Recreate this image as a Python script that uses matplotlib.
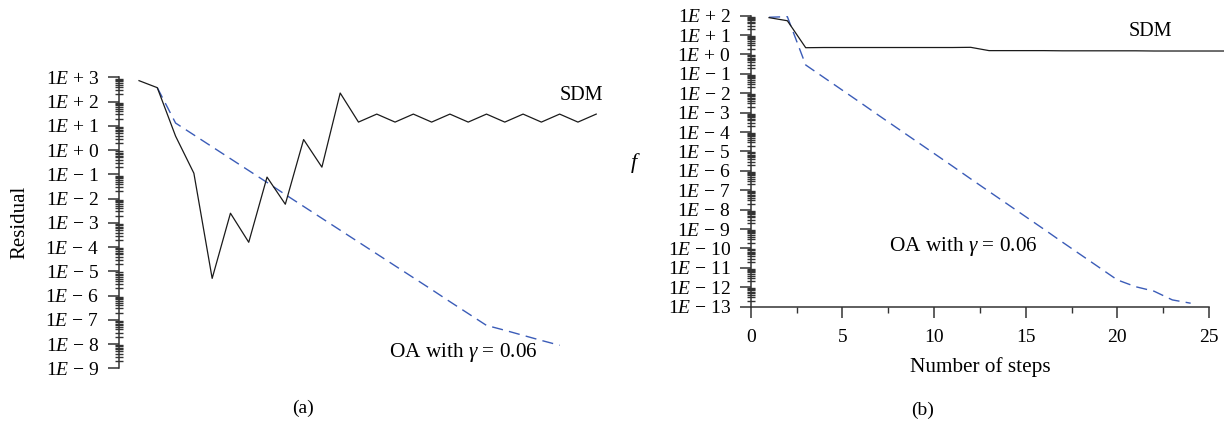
import numpy as np
import matplotlib
matplotlib.use("Agg")
import matplotlib.pyplot as plt
from matplotlib.ticker import LogLocator, NullFormatter, FuncFormatter, MultipleLocator

plt.rcParams["font.family"] = ["Liberation Serif", "DejaVu Serif"]
plt.rcParams["mathtext.fontset"] = "custom"
plt.rcParams["mathtext.rm"] = "Liberation Serif"
plt.rcParams["mathtext.it"] = "Liberation Serif:italic"

# panel (a): residual per step (log10 values)
steps_a = list(range(1, 27))
sdm_a = [2.87, 2.58, 0.58, -0.95, -5.29, -2.6, -3.8, -1.11, -2.23, 0.44,
         -0.70, 2.36, 1.16, 1.49, 1.16, 1.49, 1.16, 1.49, 1.16, 1.49,
         1.16, 1.49, 1.16, 1.49, 1.16, 1.49]
oa_steps_a = list(range(2, 25))
oa_a = [2.58, 1.12, 0.63, 0.14, -0.35, -0.84, -1.33, -1.83, -2.32, -2.81,
        -3.30, -3.79, -4.28, -4.77, -5.26, -5.75, -6.25, -6.74, -7.23, -7.43,
        -7.64, -7.85, -8.05]

# panel (b): f per step
steps_b = list(range(1, 27))
sdm_b = [1.90, 1.74, 0.35, 0.36, 0.36, 0.36, 0.36, 0.36, 0.36, 0.36,
         0.36, 0.37, 0.20, 0.20, 0.20, 0.20, 0.19, 0.19, 0.19, 0.19,
         0.19, 0.18, 0.18, 0.18, 0.18, 0.18]
oa_steps_b = list(range(1, 25))
oa_b = [1.92, 1.95, -0.54, -1.19, -1.84, -2.49, -3.15, -3.80, -4.45, -5.10,
        -5.75, -6.41, -7.06, -7.71, -8.36, -9.01, -9.67, -10.32, -10.97, -11.62,
        -11.97, -12.20, -12.65, -12.82]

W, H = 1224, 421
fig = plt.figure(figsize=(W / 100, H / 100), dpi=100)

def box(x0, y0, x1, y1):
    return [x0 / W, 1 - y1 / H, (x1 - x0) / W, (y1 - y0) / H]

def fpos(x, y):
    return x / W, 1 - y / H

black = "#1a1a1a"
blue = "#3b5cb8"
dash = (0, (8, 4.5))

def efmt(v, pos):
    e = int(round(np.log10(v)))
    sign = "+" if e >= 0 else "-"
    return r"$1E\,%s\,%d$" % (sign, abs(e))

def style_log(ax, lo, hi):
    ax.set_yscale("log")
    ax.set_ylim(10.0 ** lo, 10.0 ** hi)
    ax.yaxis.set_major_locator(LogLocator(base=10, numticks=100))
    ax.yaxis.set_minor_locator(LogLocator(base=10, subs=np.arange(2, 10), numticks=100))
    ax.yaxis.set_major_formatter(FuncFormatter(efmt))
    ax.yaxis.set_minor_formatter(NullFormatter())
    ax.tick_params(axis="y", which="major", direction="out", length=8, width=1.1,
                   color="#333333", labelsize=14, pad=6)
    ax.tick_params(axis="y", which="minor", direction="inout", length=6, width=1.0,
                   color="#333333")
    for s in ["top", "right"]:
        ax.spines[s].set_visible(False)
    ax.spines["left"].set_linewidth(1.1)
    ax.spines["left"].set_color("#333333")

# (a)
ax1 = fig.add_axes(box(119, 77.5, 620, 368.3))
ax1.plot(oa_steps_a, 10.0 ** np.array(oa_a), color=blue, lw=1.0, ls=dash)
ax1.plot(steps_a, 10.0 ** np.array(sdm_a), color=black, lw=0.9)
style_log(ax1, -9, 3)
ax1.set_xlim(-0.094, 27.3)
ax1.spines["bottom"].set_visible(False)
ax1.set_xticks([])
fig.text(*fpos(20, 222), "Residual", rotation=90, ha="center", va="center", fontsize=15)
fig.text(*fpos(581, 95), "SDM", ha="center", va="center", fontsize=14.5)
fig.text(*fpos(463, 353), r"OA with $\gamma$ = 0.06", ha="center", va="center", fontsize=15.3)
fig.text(*fpos(303, 408), "(a)", ha="center", va="center", fontsize=14)

# (b)
ax2 = fig.add_axes(box(750.7, 15.7, 1209, 306.7))
ax2.plot(oa_steps_b, 10.0 ** np.array(oa_b), color=blue, lw=1.0, ls=dash)
ax2.plot(steps_b, 10.0 ** np.array(sdm_b), color=black, lw=0.9, clip_on=False)
style_log(ax2, -13, 2)
ax2.set_xlim(0, 25)
ax2.xaxis.set_major_locator(MultipleLocator(5))
ax2.xaxis.set_minor_locator(MultipleLocator(2.5))
ax2.tick_params(axis="x", which="major", direction="out", length=8, width=1.1,
                color="#333333", labelsize=14, pad=8)
ax2.tick_params(axis="x", which="minor", direction="out", length=4, width=1.0,
                color="#333333")
ax2.spines["bottom"].set_linewidth(1.1)
ax2.spines["bottom"].set_color("#333333")
fig.text(*fpos(980, 367), "Number of steps", ha="center", va="center", fontsize=15.3)
fig.text(*fpos(635, 163), r"$f$", ha="center", va="center", fontsize=16)
fig.text(*fpos(1150, 32), "SDM", ha="center", va="center", fontsize=14.5)
fig.text(*fpos(963, 246), r"OA with $\gamma$ = 0.06", ha="center", va="center", fontsize=15.3)
fig.text(*fpos(923, 410), "(b)", ha="center", va="center", fontsize=14)

fig.savefig("out.png", dpi=100)
